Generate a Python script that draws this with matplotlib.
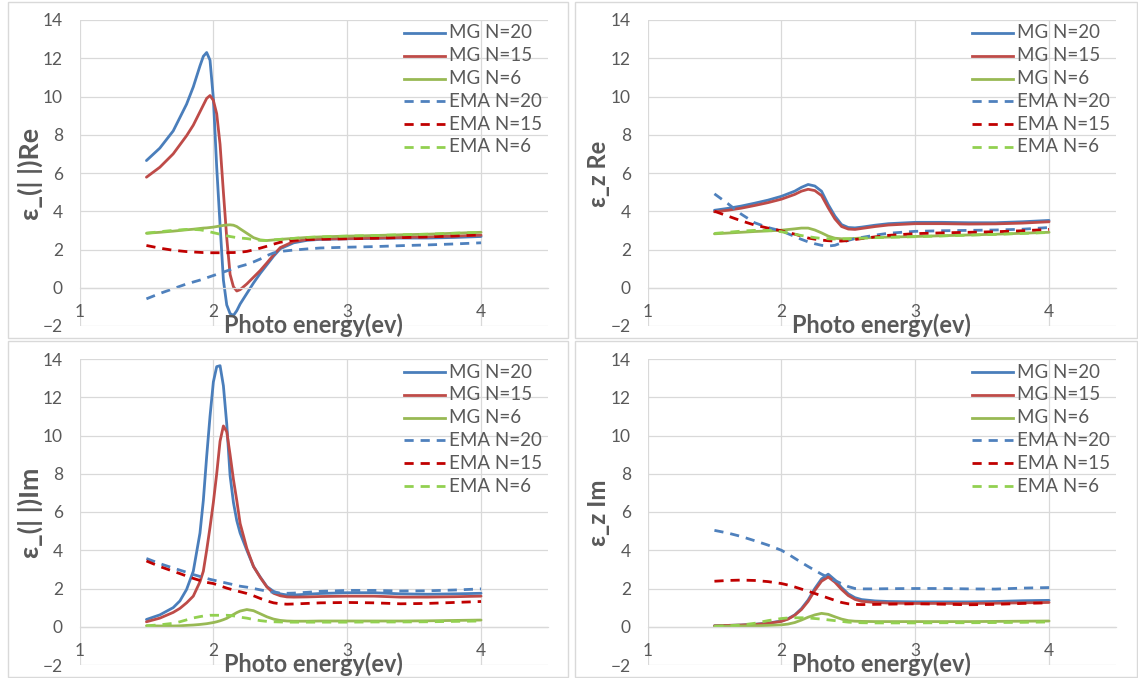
import matplotlib
matplotlib.use("Agg")
import matplotlib.pyplot as plt
from matplotlib.patches import Rectangle

# ---------------- data ----------------
series_labels = ["MG N=20", "MG N=15", "MG N=6", "EMA N=20", "EMA N=15", "EMA N=6"]
series_colors = ["#4A7EBB", "#BE4B48", "#98B954", "#4F81BD", "#C00000", "#92D050"]
series_dashed = [False, False, False, True, True, True]
x_ticks = [1, 2, 3, 4]
y_ticks = [-2, 0, 2, 4, 6, 8, 10, 12, 14]
x_title = "Photo energy(ev)"
y_titles = ["ε_(| |)Re", "ε_z Re", "ε_(| |)Im", "ε_z Im"]

# panel 1 : eps parallel, real part
x_p1 = [1.5, 1.6, 1.7, 1.8, 1.85, 1.9, 1.925, 1.95, 1.975, 2.0, 2.025, 2.05, 2.075, 2.1, 2.125, 2.15,
        2.175, 2.2, 2.25, 2.3, 2.35, 2.4, 2.45, 2.5, 2.6, 2.7, 2.8, 3.0, 3.2, 3.4, 3.6, 3.8, 4.0]
p1_mg20 = [6.65, 7.3, 8.2, 9.6, 10.5, 11.6, 12.1, 12.3, 11.9, 9.9, 6.3, 3.3, 0.4, -0.9, -1.35, -1.45,
           -1.2, -0.85, -0.3, 0.25, 0.75, 1.2, 1.65, 2.04, 2.35, 2.48, 2.53, 2.56, 2.58, 2.6, 2.6, 2.63, 2.68]
p1_mg15 = [5.78, 6.3, 7.0, 7.95, 8.5, 9.2, 9.55, 9.9, 10.05, 9.8, 9.1, 7.5, 5.0, 2.6, 0.7, 0.05,
           -0.17, -0.1, 0.2, 0.55, 0.9, 1.3, 1.72, 2.1, 2.42, 2.52, 2.55, 2.57, 2.6, 2.63, 2.66, 2.7, 2.75]
p1_mg6 = [2.85, 2.9, 2.96, 3.03, 3.06, 3.1, 3.12, 3.13, 3.15, 3.17, 3.2, 3.23, 3.26, 3.28, 3.29, 3.27,
          3.2, 3.08, 2.85, 2.62, 2.5, 2.47, 2.5, 2.53, 2.58, 2.63, 2.66, 2.7, 2.73, 2.77, 2.8, 2.85, 2.9]
p1_ema20 = [-0.58, -0.3, -0.05, 0.2, 0.3, 0.4, 0.46, 0.52, 0.58, 0.64, 0.7, 0.76, 0.82, 0.88, 0.94, 1.0,
            1.06, 1.12, 1.22, 1.35, 1.5, 1.68, 1.82, 1.9, 1.97, 2.03, 2.08, 2.12, 2.15, 2.2, 2.24, 2.29, 2.35]
p1_ema15 = [2.21, 2.07, 1.96, 1.89, 1.87, 1.85, 1.84, 1.84, 1.83, 1.83, 1.83, 1.83, 1.83, 1.83, 1.84, 1.84,
            1.85, 1.86, 1.9, 1.98, 2.07, 2.17, 2.28, 2.38, 2.48, 2.52, 2.54, 2.56, 2.59, 2.62, 2.66, 2.71, 2.77]
p1_ema6 = [2.85, 2.93, 3.0, 3.05, 3.05, 3.03, 3.0, 2.97, 2.92, 2.88, 2.84, 2.8, 2.76, 2.72, 2.68, 2.65,
           2.62, 2.6, 2.57, 2.52, 2.48, 2.47, 2.5, 2.53, 2.58, 2.63, 2.66, 2.7, 2.73, 2.77, 2.8, 2.85, 2.9]

# panel 2 : eps z, real part
x_p2 = [1.5, 1.6, 1.7, 1.8, 1.9, 2.0, 2.1, 2.15, 2.2, 2.25, 2.3, 2.35, 2.4, 2.45, 2.5, 2.55, 2.6,
        2.7, 2.8, 3.0, 3.2, 3.4, 3.6, 3.8, 4.0]
p2_mg20 = [4.05, 4.15, 4.27, 4.42, 4.58, 4.78, 5.05, 5.25, 5.4, 5.32, 5.05, 4.35, 3.75, 3.3, 3.15, 3.13, 3.17,
           3.27, 3.35, 3.42, 3.42, 3.4, 3.4, 3.45, 3.52]
p2_mg15 = [3.97, 4.05, 4.16, 4.3, 4.45, 4.63, 4.88, 5.05, 5.15, 5.08, 4.82, 4.18, 3.6, 3.2, 3.07, 3.05, 3.1,
           3.2, 3.28, 3.35, 3.35, 3.33, 3.34, 3.38, 3.45]
p2_mg6 = [2.82, 2.86, 2.9, 2.94, 2.97, 3.01, 3.08, 3.12, 3.12, 3.02, 2.87, 2.7, 2.59, 2.56, 2.56, 2.58, 2.6,
          2.63, 2.65, 2.68, 2.72, 2.76, 2.8, 2.85, 2.9]
p2_ema20 = [4.91, 4.4, 3.85, 3.4, 3.15, 2.97, 2.68, 2.53, 2.4, 2.3, 2.22, 2.18, 2.22, 2.35, 2.48, 2.57, 2.63,
            2.75, 2.85, 2.95, 2.98, 3.0, 3.02, 3.06, 3.15]
p2_ema15 = [4.0, 3.75, 3.5, 3.28, 3.12, 2.98, 2.8, 2.7, 2.6, 2.54, 2.49, 2.46, 2.44, 2.44, 2.47, 2.52, 2.57,
            2.66, 2.74, 2.83, 2.87, 2.9, 2.93, 2.98, 3.05]
p2_ema6 = [2.84, 2.9, 2.96, 3.0, 3.0, 2.93, 2.8, 2.73, 2.67, 2.62, 2.58, 2.56, 2.55, 2.55, 2.56, 2.57, 2.59,
           2.62, 2.64, 2.67, 2.71, 2.75, 2.79, 2.84, 2.89]

# panel 3 : eps parallel, imaginary part
x_p3 = [1.5, 1.6, 1.7, 1.75, 1.8, 1.85, 1.9, 1.925, 1.95, 1.975, 2.0, 2.025, 2.05, 2.075, 2.1, 2.125,
        2.15, 2.175, 2.2, 2.25, 2.3, 2.35, 2.4, 2.45, 2.5, 2.55, 2.6, 2.7, 2.8, 3.0, 3.2, 3.4, 3.6, 3.8, 4.0]
p3_mg20 = [0.38, 0.62, 1.0, 1.35, 1.95, 2.9, 4.9, 6.6, 8.9, 11.0, 12.8, 13.6, 13.65, 12.6, 10.6, 7.9,
           6.5, 5.55, 4.9, 4.0, 3.15, 2.6, 2.1, 1.85, 1.72, 1.66, 1.66, 1.7, 1.74, 1.78, 1.78, 1.72, 1.7, 1.72, 1.75]
p3_mg15 = [0.26, 0.45, 0.75, 0.96, 1.25, 1.6, 2.35, 2.9, 4.0, 5.2, 6.5, 8.0, 9.7, 10.5, 10.2, 9.0,
           7.7, 6.6, 5.4, 4.1, 3.15, 2.58, 2.08, 1.75, 1.62, 1.56, 1.55, 1.56, 1.58, 1.6, 1.6, 1.55, 1.55, 1.57, 1.6]
p3_mg6 = [0.05, 0.04, 0.04, 0.05, 0.07, 0.09, 0.12, 0.14, 0.16, 0.19, 0.22, 0.26, 0.31, 0.37, 0.44, 0.54,
          0.64, 0.74, 0.82, 0.9, 0.84, 0.68, 0.52, 0.4, 0.33, 0.3, 0.29, 0.29, 0.3, 0.3, 0.3, 0.3, 0.31, 0.33, 0.35]
p3_ema20 = [3.57, 3.3, 3.07, 2.96, 2.85, 2.73, 2.63, 2.58, 2.53, 2.48, 2.44, 2.4, 2.36, 2.32, 2.28, 2.24,
            2.2, 2.16, 2.12, 2.07, 2.0, 1.93, 1.86, 1.8, 1.76, 1.75, 1.76, 1.8, 1.85, 1.9, 1.9, 1.87, 1.88, 1.92, 1.98]
p3_ema15 = [3.44, 3.15, 2.9, 2.78, 2.65, 2.53, 2.42, 2.37, 2.32, 2.29, 2.26, 2.2, 2.14, 2.08, 2.02, 1.97,
            1.92, 1.87, 1.83, 1.74, 1.62, 1.48, 1.35, 1.25, 1.2, 1.18, 1.19, 1.22, 1.25, 1.27, 1.25, 1.2, 1.22, 1.27, 1.32]
p3_ema6 = [0.05, 0.1, 0.18, 0.26, 0.36, 0.46, 0.53, 0.56, 0.58, 0.6, 0.6, 0.6, 0.6, 0.6, 0.6, 0.59,
           0.57, 0.54, 0.5, 0.45, 0.38, 0.32, 0.28, 0.26, 0.25, 0.24, 0.24, 0.24, 0.24, 0.24, 0.25, 0.25, 0.26, 0.28, 0.3]

# panel 4 : eps z, imaginary part
x_p4 = [1.5, 1.6, 1.7, 1.8, 1.9, 2.0, 2.05, 2.1, 2.15, 2.2, 2.25, 2.3, 2.35, 2.4, 2.45, 2.5, 2.55, 2.6,
        2.7, 2.8, 3.0, 3.2, 3.4, 3.6, 3.8, 4.0]
p4_mg20 = [0.05, 0.07, 0.09, 0.13, 0.19, 0.3, 0.42, 0.62, 0.95, 1.4, 2.0, 2.5, 2.75, 2.45, 2.05, 1.72, 1.52, 1.42,
           1.35, 1.32, 1.3, 1.3, 1.3, 1.32, 1.36, 1.38]
p4_mg15 = [0.05, 0.07, 0.09, 0.12, 0.18, 0.28, 0.4, 0.6, 0.9, 1.33, 1.9, 2.38, 2.6, 2.33, 1.95, 1.63, 1.43, 1.33,
           1.27, 1.24, 1.22, 1.22, 1.22, 1.23, 1.25, 1.27]
p4_mg6 = [0.02, 0.03, 0.04, 0.05, 0.07, 0.1, 0.14, 0.22, 0.35, 0.5, 0.62, 0.7, 0.65, 0.52, 0.4, 0.32, 0.29, 0.28,
          0.27, 0.27, 0.27, 0.27, 0.27, 0.28, 0.29, 0.3]
p4_ema20 = [5.04, 4.9, 4.72, 4.5, 4.27, 4.0, 3.8, 3.58, 3.36, 3.15, 2.95, 2.75, 2.58, 2.42, 2.25, 2.1, 2.0, 1.98,
            1.98, 1.99, 2.0, 2.0, 1.98, 1.97, 2.02, 2.05]
p4_ema15 = [2.38, 2.42, 2.44, 2.42, 2.36, 2.26, 2.18, 2.08, 1.97, 1.86, 1.74, 1.62, 1.5, 1.38, 1.27, 1.2, 1.17, 1.16,
            1.17, 1.18, 1.2, 1.18, 1.15, 1.17, 1.22, 1.25]
p4_ema6 = [0.03, 0.05, 0.09, 0.18, 0.32, 0.43, 0.46, 0.47, 0.47, 0.46, 0.43, 0.4, 0.36, 0.32, 0.28, 0.24, 0.22, 0.21,
           0.2, 0.2, 0.2, 0.21, 0.21, 0.22, 0.23, 0.25]

panel_x = [x_p1, x_p2, x_p3, x_p4]
panel_y = [
    [p1_mg20, p1_mg15, p1_mg6, p1_ema20, p1_ema15, p1_ema6],
    [p2_mg20, p2_mg15, p2_mg6, p2_ema20, p2_ema15, p2_ema6],
    [p3_mg20, p3_mg15, p3_mg6, p3_ema20, p3_ema15, p3_ema6],
    [p4_mg20, p4_mg15, p4_mg6, p4_ema20, p4_ema15, p4_ema6],
]

# ---------------- layout ----------------
W, H = 1138, 678
FONT = ["Lato", "Open Sans", "DejaVu Sans"]
plt.rcParams["font.family"] = FONT
TXT = "#595959"
GRID = "#D9D9D9"

fig = plt.figure(figsize=(W / 100, H / 100), dpi=100)

# chart frames (pixels: x0, y0, x1, y1 from top-left)
frames = [(8, 2, 568, 338), (575, 2, 1137, 338), (8, 341, 568, 677), (575, 341, 1137, 677)]
for x0, y0, x1, y1 in frames:
    fig.patches.append(Rectangle((x0 / W, 1 - y1 / H), (x1 - x0) / W, (y1 - y0) / H,
                                 transform=fig.transFigure, fill=False, ec=GRID, lw=1.0))

plot_w, plot_h = 468.5, 306.0
origins = [(79.5, 20.0), (647.5, 20.0), (79.5, 359.0), (647.5, 359.0)]
ylabel_len = [92, 66, 90, 66]

title_fs = 16.0
for k, (l, t) in enumerate(origins):
    ax = fig.add_axes([l / W, 1 - (t + plot_h) / H, plot_w / W, plot_h / H])
    ax.set_xlim(1, 4.5)
    ax.set_ylim(-2, 14)
    ax.set_xticks(x_ticks)
    ax.set_yticks(y_ticks)
    ax.grid(True, color=GRID, lw=0.9)
    ax.set_axisbelow(True)
    for s in ["top", "right", "left"]:
        ax.spines[s].set_visible(False)
    ax.spines["bottom"].set_position(("data", 0))
    ax.spines["bottom"].set_color(GRID)
    ax.spines["bottom"].set_linewidth(0.9)
    ax.tick_params(axis="x", length=0, pad=12.0, labelsize=12.5, labelcolor=TXT)
    ax.tick_params(axis="y", length=0, pad=12.0, labelsize=12.5, labelcolor=TXT)

    xs = panel_x[k]
    for j in range(6):
        kw = dict(color=series_colors[j], lw=2.0, solid_capstyle="round", solid_joinstyle="round")
        if series_dashed[j]:
            ax.plot(xs, panel_y[k][j], linestyle=(0, (3.3, 2.5)), dash_capstyle="butt", **kw)
        else:
            ax.plot(xs, panel_y[k][j], **kw)

    # legend (manual, Excel-style)
    lx0 = (404 - 79.5) / plot_w
    lx1 = (445 - 79.5) / plot_w
    tx = (449 - 79.5) / plot_w
    for j in range(6):
        py = 33 + j * 22.8
        yy = 1 - (py - 20) / plot_h
        ls = (0, (3.3, 2.5)) if series_dashed[j] else "-"
        ax.plot([lx0, lx1], [yy, yy], transform=ax.transAxes, color=series_colors[j], lw=2.0,
                linestyle=ls, clip_on=False)
        ax.text(tx, yy, series_labels[j], transform=ax.transAxes, ha="left", va="center",
                fontsize=13.5, color=TXT)

    xt = ax.text(0.5, 1 - (333 - 20) / plot_h, x_title, transform=ax.transAxes, ha="center",
                 va="baseline", fontsize=title_fs, fontweight="bold", color=TXT)
    yt = ax.text((30 - 79.5) / plot_w, 1 - (174 - 20) / plot_h, y_titles[k], transform=ax.transAxes,
                 ha="center", va="center", rotation=90, fontsize=title_fs, fontweight="bold", color=TXT)
    fig.canvas.draw()
    xt.set_fontsize(title_fs * 180.0 / xt.get_window_extent().width)
    yt.set_fontsize(title_fs * ylabel_len[k] / yt.get_window_extent().height)

fig.savefig("out.png", dpi=100)
